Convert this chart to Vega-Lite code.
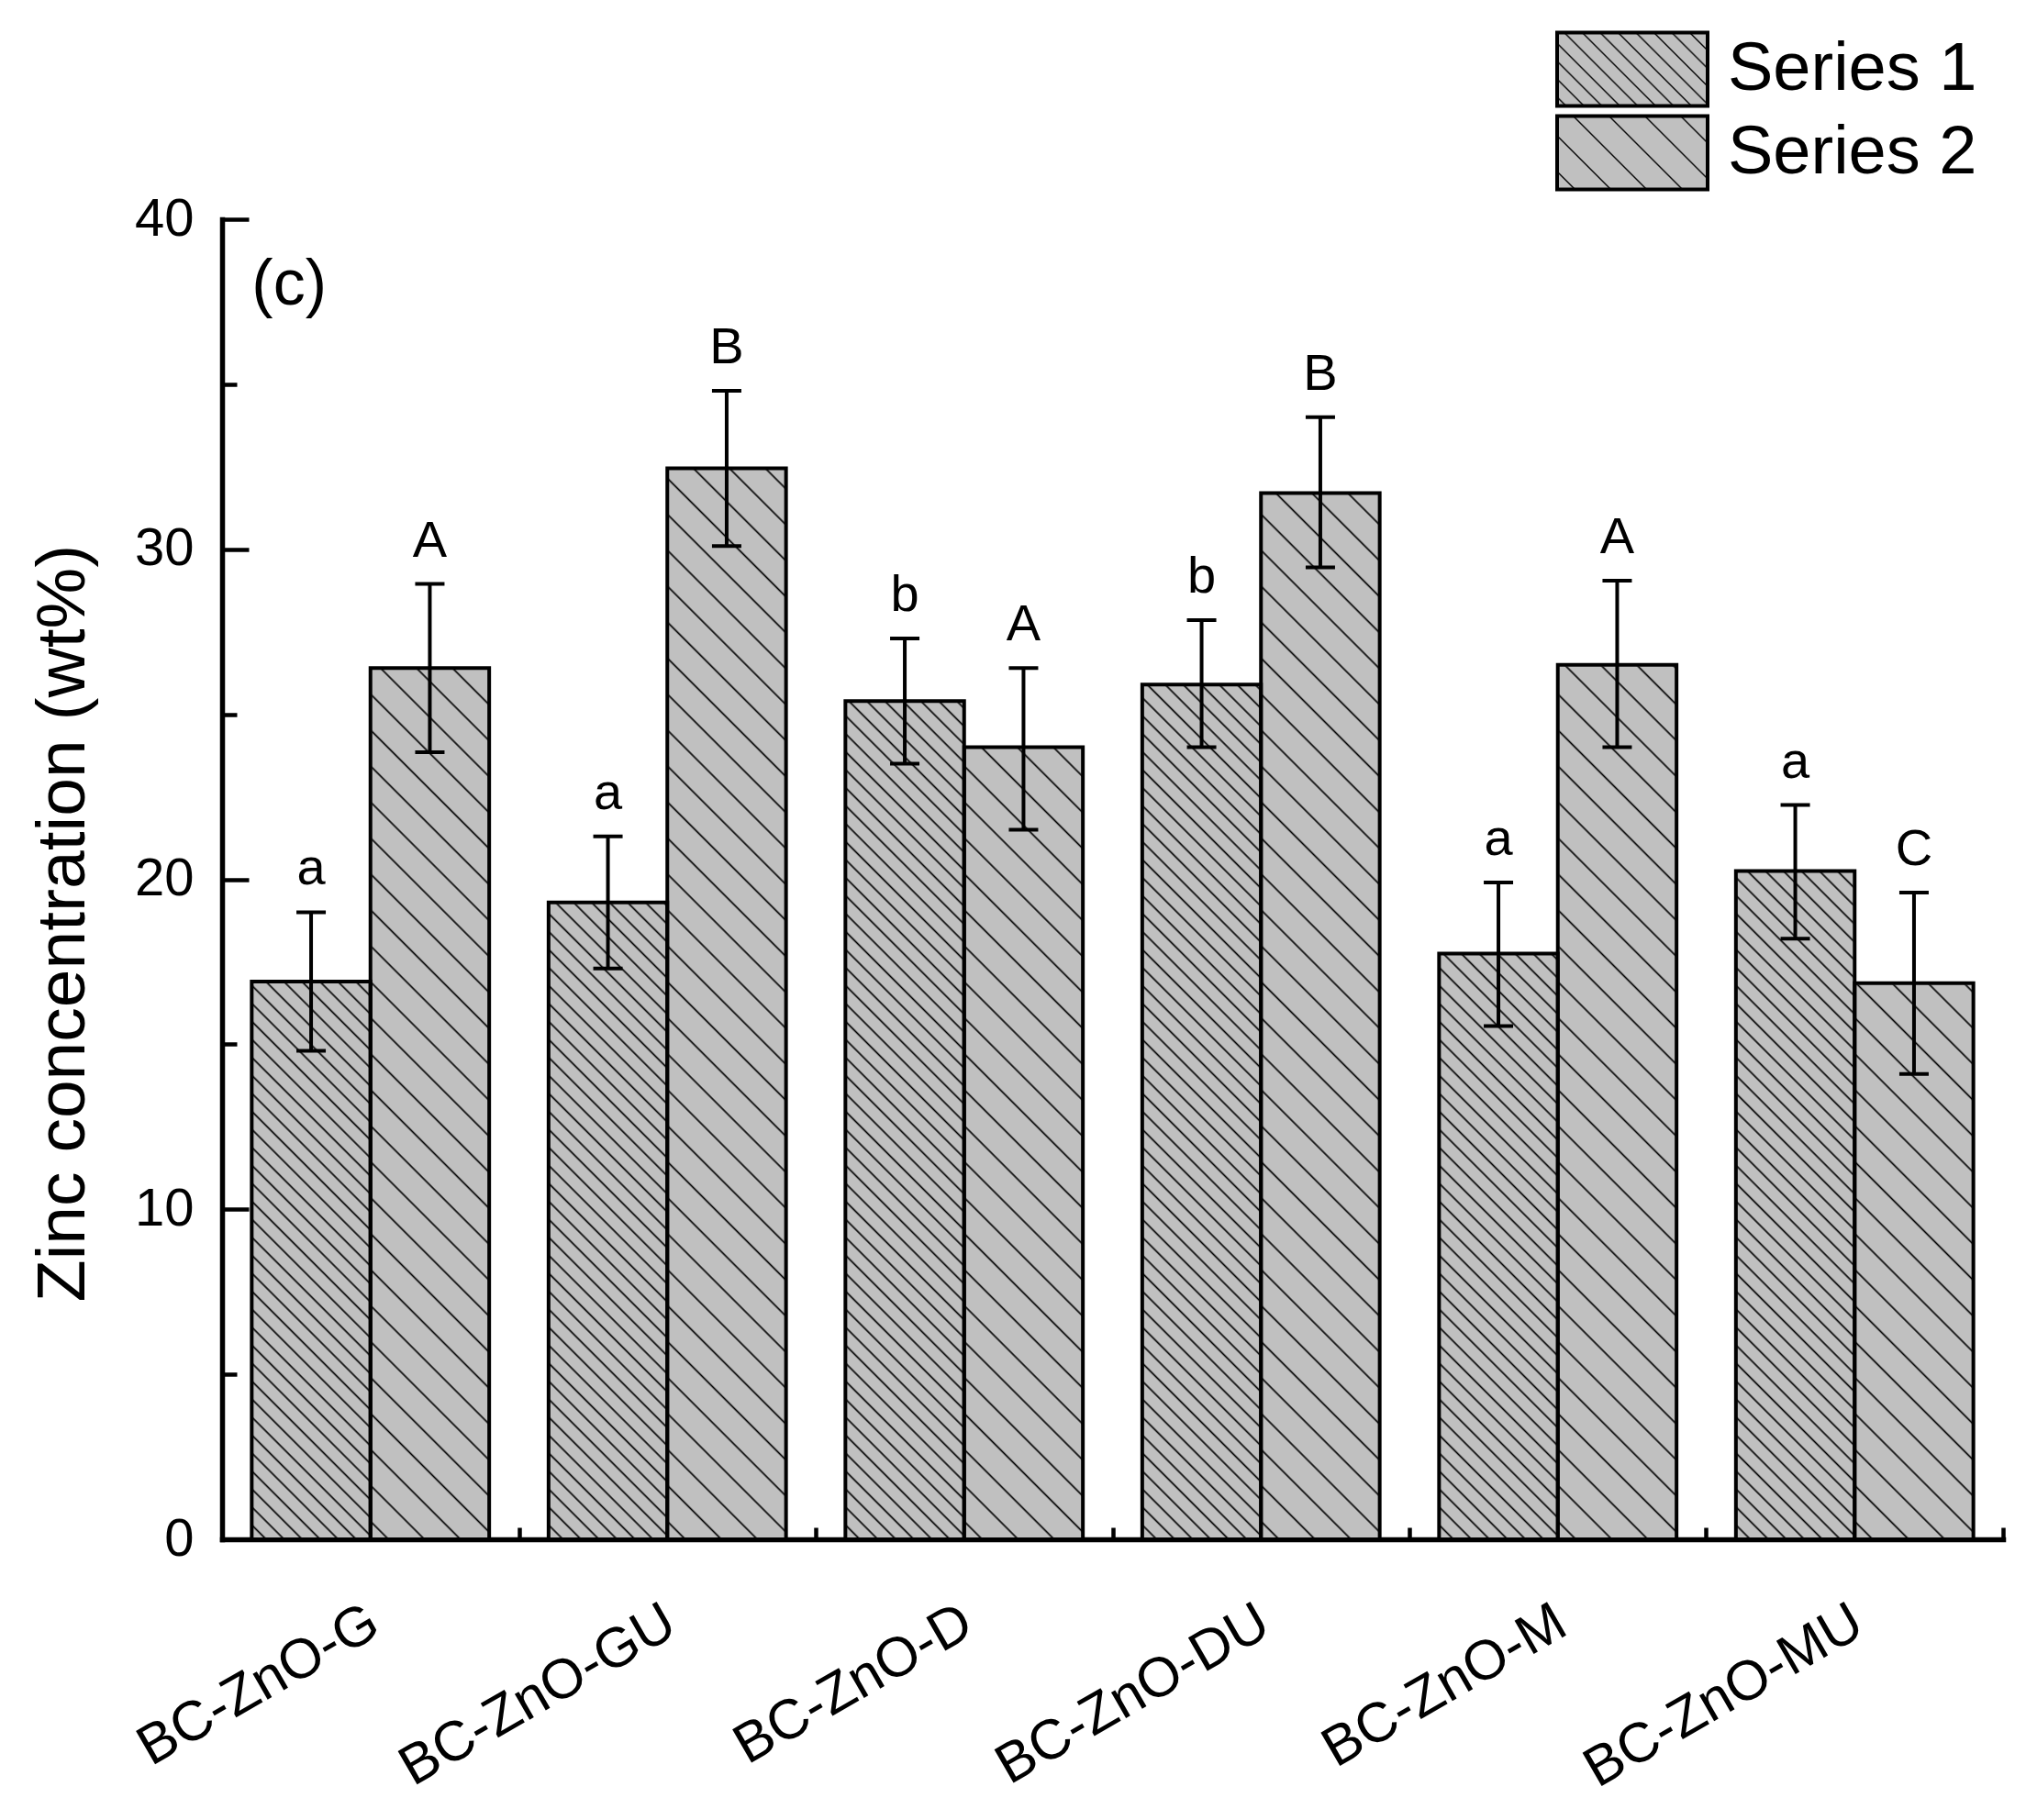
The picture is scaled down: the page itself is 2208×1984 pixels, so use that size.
{
  "$schema": "https://vega.github.io/schema/vega-lite/v6.json",
  "width": 1941,
  "height": 1439,
  "autosize": {"type": "none"},
  "padding": {"left": 242, "top": 239, "right": 25, "bottom": 306},
  "background": "white",
  "config": {
    "view": {"stroke": null},
    "font": "Liberation Sans",
    "axis": {
      "domainColor": "black", "domainWidth": 5.5, "domainCap": "square",
      "tickColor": "black", "tickWidth": 4.5,
      "labelColor": "black", "labelFont": "Liberation Sans",
      "titleFont": "Liberation Sans", "titleColor": "black", "titleFontWeight": "normal",
      "grid": false
    }
  },
  "resolve": {"axis": {"y": "independent"}},
  "data": {"values": [
    {"group": "BC-ZnO-G", "series": "Series 1", "value": 16.9, "lo": 14.8, "hi": 19.0, "letter": "a"},
    {"group": "BC-ZnO-G", "series": "Series 2", "value": 26.4, "lo": 23.85, "hi": 28.95, "letter": "A"},
    {"group": "BC-ZnO-GU", "series": "Series 1", "value": 19.3, "lo": 17.3, "hi": 21.3, "letter": "a"},
    {"group": "BC-ZnO-GU", "series": "Series 2", "value": 32.45, "lo": 30.1, "hi": 34.8, "letter": "B"},
    {"group": "BC-ZnO-D", "series": "Series 1", "value": 25.4, "lo": 23.5, "hi": 27.3, "letter": "b"},
    {"group": "BC-ZnO-D", "series": "Series 2", "value": 24.0, "lo": 21.5, "hi": 26.4, "letter": "A"},
    {"group": "BC-ZnO-DU", "series": "Series 1", "value": 25.9, "lo": 24.0, "hi": 27.85, "letter": "b"},
    {"group": "BC-ZnO-DU", "series": "Series 2", "value": 31.7, "lo": 29.45, "hi": 34.0, "letter": "B"},
    {"group": "BC-ZnO-M", "series": "Series 1", "value": 17.75, "lo": 15.55, "hi": 19.9, "letter": "a"},
    {"group": "BC-ZnO-M", "series": "Series 2", "value": 26.5, "lo": 24.0, "hi": 29.05, "letter": "A"},
    {"group": "BC-ZnO-MU", "series": "Series 1", "value": 20.25, "lo": 18.2, "hi": 22.25, "letter": "a"},
    {"group": "BC-ZnO-MU", "series": "Series 2", "value": 16.85, "lo": 14.1, "hi": 19.6, "letter": "C"}
  ]},
  "layer": [
    {
      "transform": [{"filter": "datum.series === 'Series 1'"}],
      "mark": {"type": "bar", "strokeWidth": 0, "fill": {"gradient": "linear", "x1": 0, "y1": 1, "x2": 0.0972, "y2": -0.0812, "stops": [
        {"offset":0.0085,"color":"#c0c0c0"},{"offset":0.01,"color":"#000"},{"offset":0.0115,"color":"#c0c0c0"},{"offset":0.021,"color":"#c0c0c0"},{"offset":0.0225,"color":"#000"},{"offset":0.024,"color":"#c0c0c0"},{"offset":0.0335,"color":"#c0c0c0"},{"offset":0.035,"color":"#000"},{"offset":0.0365,"color":"#c0c0c0"},{"offset":0.046,"color":"#c0c0c0"},{"offset":0.0475,"color":"#000"},{"offset":0.049,"color":"#c0c0c0"},
        {"offset":0.0585,"color":"#c0c0c0"},{"offset":0.06,"color":"#000"},{"offset":0.0615,"color":"#c0c0c0"},{"offset":0.071,"color":"#c0c0c0"},{"offset":0.0725,"color":"#000"},{"offset":0.074,"color":"#c0c0c0"},{"offset":0.0835,"color":"#c0c0c0"},{"offset":0.085,"color":"#000"},{"offset":0.0865,"color":"#c0c0c0"},{"offset":0.096,"color":"#c0c0c0"},{"offset":0.0975,"color":"#000"},{"offset":0.099,"color":"#c0c0c0"},
        {"offset":0.1085,"color":"#c0c0c0"},{"offset":0.11,"color":"#000"},{"offset":0.1115,"color":"#c0c0c0"},{"offset":0.121,"color":"#c0c0c0"},{"offset":0.1225,"color":"#000"},{"offset":0.124,"color":"#c0c0c0"},{"offset":0.1335,"color":"#c0c0c0"},{"offset":0.135,"color":"#000"},{"offset":0.1365,"color":"#c0c0c0"},{"offset":0.146,"color":"#c0c0c0"},{"offset":0.1475,"color":"#000"},{"offset":0.149,"color":"#c0c0c0"},
        {"offset":0.1585,"color":"#c0c0c0"},{"offset":0.16,"color":"#000"},{"offset":0.1615,"color":"#c0c0c0"},{"offset":0.171,"color":"#c0c0c0"},{"offset":0.1725,"color":"#000"},{"offset":0.174,"color":"#c0c0c0"},{"offset":0.1835,"color":"#c0c0c0"},{"offset":0.185,"color":"#000"},{"offset":0.1865,"color":"#c0c0c0"},{"offset":0.196,"color":"#c0c0c0"},{"offset":0.1975,"color":"#000"},{"offset":0.199,"color":"#c0c0c0"},
        {"offset":0.2085,"color":"#c0c0c0"},{"offset":0.21,"color":"#000"},{"offset":0.2115,"color":"#c0c0c0"},{"offset":0.221,"color":"#c0c0c0"},{"offset":0.2225,"color":"#000"},{"offset":0.224,"color":"#c0c0c0"},{"offset":0.2335,"color":"#c0c0c0"},{"offset":0.235,"color":"#000"},{"offset":0.2365,"color":"#c0c0c0"},{"offset":0.246,"color":"#c0c0c0"},{"offset":0.2475,"color":"#000"},{"offset":0.249,"color":"#c0c0c0"},
        {"offset":0.2585,"color":"#c0c0c0"},{"offset":0.26,"color":"#000"},{"offset":0.2615,"color":"#c0c0c0"},{"offset":0.271,"color":"#c0c0c0"},{"offset":0.2725,"color":"#000"},{"offset":0.274,"color":"#c0c0c0"},{"offset":0.2835,"color":"#c0c0c0"},{"offset":0.285,"color":"#000"},{"offset":0.2865,"color":"#c0c0c0"},{"offset":0.296,"color":"#c0c0c0"},{"offset":0.2975,"color":"#000"},{"offset":0.299,"color":"#c0c0c0"},
        {"offset":0.3085,"color":"#c0c0c0"},{"offset":0.31,"color":"#000"},{"offset":0.3115,"color":"#c0c0c0"},{"offset":0.321,"color":"#c0c0c0"},{"offset":0.3225,"color":"#000"},{"offset":0.324,"color":"#c0c0c0"},{"offset":0.3335,"color":"#c0c0c0"},{"offset":0.335,"color":"#000"},{"offset":0.3365,"color":"#c0c0c0"},{"offset":0.346,"color":"#c0c0c0"},{"offset":0.3475,"color":"#000"},{"offset":0.349,"color":"#c0c0c0"},
        {"offset":0.3585,"color":"#c0c0c0"},{"offset":0.36,"color":"#000"},{"offset":0.3615,"color":"#c0c0c0"},{"offset":0.371,"color":"#c0c0c0"},{"offset":0.3725,"color":"#000"},{"offset":0.374,"color":"#c0c0c0"},{"offset":0.3835,"color":"#c0c0c0"},{"offset":0.385,"color":"#000"},{"offset":0.3865,"color":"#c0c0c0"},{"offset":0.396,"color":"#c0c0c0"},{"offset":0.3975,"color":"#000"},{"offset":0.399,"color":"#c0c0c0"},
        {"offset":0.4085,"color":"#c0c0c0"},{"offset":0.41,"color":"#000"},{"offset":0.4115,"color":"#c0c0c0"},{"offset":0.421,"color":"#c0c0c0"},{"offset":0.4225,"color":"#000"},{"offset":0.424,"color":"#c0c0c0"},{"offset":0.4335,"color":"#c0c0c0"},{"offset":0.435,"color":"#000"},{"offset":0.4365,"color":"#c0c0c0"},{"offset":0.446,"color":"#c0c0c0"},{"offset":0.4475,"color":"#000"},{"offset":0.449,"color":"#c0c0c0"},
        {"offset":0.4585,"color":"#c0c0c0"},{"offset":0.46,"color":"#000"},{"offset":0.4615,"color":"#c0c0c0"},{"offset":0.471,"color":"#c0c0c0"},{"offset":0.4725,"color":"#000"},{"offset":0.474,"color":"#c0c0c0"},{"offset":0.4835,"color":"#c0c0c0"},{"offset":0.485,"color":"#000"},{"offset":0.4865,"color":"#c0c0c0"},{"offset":0.496,"color":"#c0c0c0"},{"offset":0.4975,"color":"#000"},{"offset":0.499,"color":"#c0c0c0"},
        {"offset":0.5085,"color":"#c0c0c0"},{"offset":0.51,"color":"#000"},{"offset":0.5115,"color":"#c0c0c0"},{"offset":0.521,"color":"#c0c0c0"},{"offset":0.5225,"color":"#000"},{"offset":0.524,"color":"#c0c0c0"},{"offset":0.5335,"color":"#c0c0c0"},{"offset":0.535,"color":"#000"},{"offset":0.5365,"color":"#c0c0c0"},{"offset":0.546,"color":"#c0c0c0"},{"offset":0.5475,"color":"#000"},{"offset":0.549,"color":"#c0c0c0"},
        {"offset":0.5585,"color":"#c0c0c0"},{"offset":0.56,"color":"#000"},{"offset":0.5615,"color":"#c0c0c0"},{"offset":0.571,"color":"#c0c0c0"},{"offset":0.5725,"color":"#000"},{"offset":0.574,"color":"#c0c0c0"},{"offset":0.5835,"color":"#c0c0c0"},{"offset":0.585,"color":"#000"},{"offset":0.5865,"color":"#c0c0c0"},{"offset":0.596,"color":"#c0c0c0"},{"offset":0.5975,"color":"#000"},{"offset":0.599,"color":"#c0c0c0"},
        {"offset":0.6085,"color":"#c0c0c0"},{"offset":0.61,"color":"#000"},{"offset":0.6115,"color":"#c0c0c0"},{"offset":0.621,"color":"#c0c0c0"},{"offset":0.6225,"color":"#000"},{"offset":0.624,"color":"#c0c0c0"},{"offset":0.6335,"color":"#c0c0c0"},{"offset":0.635,"color":"#000"},{"offset":0.6365,"color":"#c0c0c0"},{"offset":0.646,"color":"#c0c0c0"},{"offset":0.6475,"color":"#000"},{"offset":0.649,"color":"#c0c0c0"},
        {"offset":0.6585,"color":"#c0c0c0"},{"offset":0.66,"color":"#000"},{"offset":0.6615,"color":"#c0c0c0"},{"offset":0.671,"color":"#c0c0c0"},{"offset":0.6725,"color":"#000"},{"offset":0.674,"color":"#c0c0c0"},{"offset":0.6835,"color":"#c0c0c0"},{"offset":0.685,"color":"#000"},{"offset":0.6865,"color":"#c0c0c0"},{"offset":0.696,"color":"#c0c0c0"},{"offset":0.6975,"color":"#000"},{"offset":0.699,"color":"#c0c0c0"},
        {"offset":0.7085,"color":"#c0c0c0"},{"offset":0.71,"color":"#000"},{"offset":0.7115,"color":"#c0c0c0"},{"offset":0.721,"color":"#c0c0c0"},{"offset":0.7225,"color":"#000"},{"offset":0.724,"color":"#c0c0c0"},{"offset":0.7335,"color":"#c0c0c0"},{"offset":0.735,"color":"#000"},{"offset":0.7365,"color":"#c0c0c0"},{"offset":0.746,"color":"#c0c0c0"},{"offset":0.7475,"color":"#000"},{"offset":0.749,"color":"#c0c0c0"},
        {"offset":0.7585,"color":"#c0c0c0"},{"offset":0.76,"color":"#000"},{"offset":0.7615,"color":"#c0c0c0"},{"offset":0.771,"color":"#c0c0c0"},{"offset":0.7725,"color":"#000"},{"offset":0.774,"color":"#c0c0c0"},{"offset":0.7835,"color":"#c0c0c0"},{"offset":0.785,"color":"#000"},{"offset":0.7865,"color":"#c0c0c0"},{"offset":0.796,"color":"#c0c0c0"},{"offset":0.7975,"color":"#000"},{"offset":0.799,"color":"#c0c0c0"},
        {"offset":0.8085,"color":"#c0c0c0"},{"offset":0.81,"color":"#000"},{"offset":0.8115,"color":"#c0c0c0"},{"offset":0.821,"color":"#c0c0c0"},{"offset":0.8225,"color":"#000"},{"offset":0.824,"color":"#c0c0c0"},{"offset":0.8335,"color":"#c0c0c0"},{"offset":0.835,"color":"#000"},{"offset":0.8365,"color":"#c0c0c0"},{"offset":0.846,"color":"#c0c0c0"},{"offset":0.8475,"color":"#000"},{"offset":0.849,"color":"#c0c0c0"},
        {"offset":0.8585,"color":"#c0c0c0"},{"offset":0.86,"color":"#000"},{"offset":0.8615,"color":"#c0c0c0"},{"offset":0.871,"color":"#c0c0c0"},{"offset":0.8725,"color":"#000"},{"offset":0.874,"color":"#c0c0c0"},{"offset":0.8835,"color":"#c0c0c0"},{"offset":0.885,"color":"#000"},{"offset":0.8865,"color":"#c0c0c0"},{"offset":0.896,"color":"#c0c0c0"},{"offset":0.8975,"color":"#000"},{"offset":0.899,"color":"#c0c0c0"},
        {"offset":0.9085,"color":"#c0c0c0"},{"offset":0.91,"color":"#000"},{"offset":0.9115,"color":"#c0c0c0"},{"offset":0.921,"color":"#c0c0c0"},{"offset":0.9225,"color":"#000"},{"offset":0.924,"color":"#c0c0c0"},{"offset":0.9335,"color":"#c0c0c0"},{"offset":0.935,"color":"#000"},{"offset":0.9365,"color":"#c0c0c0"},{"offset":0.946,"color":"#c0c0c0"},{"offset":0.9475,"color":"#000"},{"offset":0.949,"color":"#c0c0c0"},
        {"offset":0.9585,"color":"#c0c0c0"},{"offset":0.96,"color":"#000"},{"offset":0.9615,"color":"#c0c0c0"},{"offset":0.971,"color":"#c0c0c0"},{"offset":0.9725,"color":"#000"},{"offset":0.974,"color":"#c0c0c0"},{"offset":0.9835,"color":"#c0c0c0"},{"offset":0.985,"color":"#000"},{"offset":0.9865,"color":"#c0c0c0"},{"offset":0.996,"color":"#c0c0c0"},{"offset":0.9975,"color":"#000"},{"offset":0.999,"color":"#c0c0c0"}
      ]}},
      "encoding": {
        "x": {"field": "group", "type": "nominal", "title": null, "sort": null,
          "scale": {"domain": ["BC-ZnO-G", "BC-ZnO-GU", "BC-ZnO-D", "BC-ZnO-DU", "BC-ZnO-M", "BC-ZnO-MU"], "paddingInner": 0.2, "paddingOuter": 0.1},
          "axis": {"title": null, "labelAngle": -30, "labelAlign": "right", "labelBaseline": "top", "labelFontSize": 61, "labelLimit": 1000, "ticks": true, "bandPosition": 1, "tickOffset": 32.35, "tickSize": -13, "labelPadding": 73, "labelOffset": -43.35}},
        "xOffset": {"field": "series", "type": "nominal", "scale": {"domain": ["Series 1", "Series 2"]}},
        "y": {"datum": 40, "type": "quantitative", "scale": {"domain": [0, 40], "nice": false},
          "axis": {"orient": "left", "title": "Zinc concentration (wt%)", "titleFontSize": 75, "titlePadding": 39, "titleY": 767,
            "values": [0, 10, 20, 30, 40],
            "labelFontSize": 58, "labelFlush": false, "labelOverlap": false,
            "tickSize": -29, "labelPadding": 60}},
        "y2": {"datum": 0}
      }
    },
    {
      "transform": [{"filter": "datum.series === 'Series 2'"}],
      "mark": {"type": "bar", "strokeWidth": 0, "fill": {"gradient": "linear", "x1": 0, "y1": 1, "x2": 0.0972, "y2": -0.0812, "stops": [
        {"offset":0.011,"color":"#c0c0c0"},{"offset":0.0125,"color":"#000"},{"offset":0.014,"color":"#c0c0c0"},{"offset":0.036,"color":"#c0c0c0"},{"offset":0.0375,"color":"#000"},{"offset":0.039,"color":"#c0c0c0"},{"offset":0.061,"color":"#c0c0c0"},{"offset":0.0625,"color":"#000"},{"offset":0.064,"color":"#c0c0c0"},{"offset":0.086,"color":"#c0c0c0"},{"offset":0.0875,"color":"#000"},{"offset":0.089,"color":"#c0c0c0"},
        {"offset":0.111,"color":"#c0c0c0"},{"offset":0.1125,"color":"#000"},{"offset":0.114,"color":"#c0c0c0"},{"offset":0.136,"color":"#c0c0c0"},{"offset":0.1375,"color":"#000"},{"offset":0.139,"color":"#c0c0c0"},{"offset":0.161,"color":"#c0c0c0"},{"offset":0.1625,"color":"#000"},{"offset":0.164,"color":"#c0c0c0"},{"offset":0.186,"color":"#c0c0c0"},{"offset":0.1875,"color":"#000"},{"offset":0.189,"color":"#c0c0c0"},
        {"offset":0.211,"color":"#c0c0c0"},{"offset":0.2125,"color":"#000"},{"offset":0.214,"color":"#c0c0c0"},{"offset":0.236,"color":"#c0c0c0"},{"offset":0.2375,"color":"#000"},{"offset":0.239,"color":"#c0c0c0"},{"offset":0.261,"color":"#c0c0c0"},{"offset":0.2625,"color":"#000"},{"offset":0.264,"color":"#c0c0c0"},{"offset":0.286,"color":"#c0c0c0"},{"offset":0.2875,"color":"#000"},{"offset":0.289,"color":"#c0c0c0"},
        {"offset":0.311,"color":"#c0c0c0"},{"offset":0.3125,"color":"#000"},{"offset":0.314,"color":"#c0c0c0"},{"offset":0.336,"color":"#c0c0c0"},{"offset":0.3375,"color":"#000"},{"offset":0.339,"color":"#c0c0c0"},{"offset":0.361,"color":"#c0c0c0"},{"offset":0.3625,"color":"#000"},{"offset":0.364,"color":"#c0c0c0"},{"offset":0.386,"color":"#c0c0c0"},{"offset":0.3875,"color":"#000"},{"offset":0.389,"color":"#c0c0c0"},
        {"offset":0.411,"color":"#c0c0c0"},{"offset":0.4125,"color":"#000"},{"offset":0.414,"color":"#c0c0c0"},{"offset":0.436,"color":"#c0c0c0"},{"offset":0.4375,"color":"#000"},{"offset":0.439,"color":"#c0c0c0"},{"offset":0.461,"color":"#c0c0c0"},{"offset":0.4625,"color":"#000"},{"offset":0.464,"color":"#c0c0c0"},{"offset":0.486,"color":"#c0c0c0"},{"offset":0.4875,"color":"#000"},{"offset":0.489,"color":"#c0c0c0"},
        {"offset":0.511,"color":"#c0c0c0"},{"offset":0.5125,"color":"#000"},{"offset":0.514,"color":"#c0c0c0"},{"offset":0.536,"color":"#c0c0c0"},{"offset":0.5375,"color":"#000"},{"offset":0.539,"color":"#c0c0c0"},{"offset":0.561,"color":"#c0c0c0"},{"offset":0.5625,"color":"#000"},{"offset":0.564,"color":"#c0c0c0"},{"offset":0.586,"color":"#c0c0c0"},{"offset":0.5875,"color":"#000"},{"offset":0.589,"color":"#c0c0c0"},
        {"offset":0.611,"color":"#c0c0c0"},{"offset":0.6125,"color":"#000"},{"offset":0.614,"color":"#c0c0c0"},{"offset":0.636,"color":"#c0c0c0"},{"offset":0.6375,"color":"#000"},{"offset":0.639,"color":"#c0c0c0"},{"offset":0.661,"color":"#c0c0c0"},{"offset":0.6625,"color":"#000"},{"offset":0.664,"color":"#c0c0c0"},{"offset":0.686,"color":"#c0c0c0"},{"offset":0.6875,"color":"#000"},{"offset":0.689,"color":"#c0c0c0"},
        {"offset":0.711,"color":"#c0c0c0"},{"offset":0.7125,"color":"#000"},{"offset":0.714,"color":"#c0c0c0"},{"offset":0.736,"color":"#c0c0c0"},{"offset":0.7375,"color":"#000"},{"offset":0.739,"color":"#c0c0c0"},{"offset":0.761,"color":"#c0c0c0"},{"offset":0.7625,"color":"#000"},{"offset":0.764,"color":"#c0c0c0"},{"offset":0.786,"color":"#c0c0c0"},{"offset":0.7875,"color":"#000"},{"offset":0.789,"color":"#c0c0c0"},
        {"offset":0.811,"color":"#c0c0c0"},{"offset":0.8125,"color":"#000"},{"offset":0.814,"color":"#c0c0c0"},{"offset":0.836,"color":"#c0c0c0"},{"offset":0.8375,"color":"#000"},{"offset":0.839,"color":"#c0c0c0"},{"offset":0.861,"color":"#c0c0c0"},{"offset":0.8625,"color":"#000"},{"offset":0.864,"color":"#c0c0c0"},{"offset":0.886,"color":"#c0c0c0"},{"offset":0.8875,"color":"#000"},{"offset":0.889,"color":"#c0c0c0"},
        {"offset":0.911,"color":"#c0c0c0"},{"offset":0.9125,"color":"#000"},{"offset":0.914,"color":"#c0c0c0"},{"offset":0.936,"color":"#c0c0c0"},{"offset":0.9375,"color":"#000"},{"offset":0.939,"color":"#c0c0c0"},{"offset":0.961,"color":"#c0c0c0"},{"offset":0.9625,"color":"#000"},{"offset":0.964,"color":"#c0c0c0"},{"offset":0.986,"color":"#c0c0c0"},{"offset":0.9875,"color":"#000"},{"offset":0.989,"color":"#c0c0c0"}
      ]}},
      "encoding": {
        "x": {"field": "group", "type": "nominal", "title": null, "sort": null},
        "xOffset": {"field": "series", "type": "nominal"},
        "y": {"datum": 40, "type": "quantitative",
          "axis": {"orient": "left", "title": null, "values": [5, 15, 25, 35], "labels": false, "domain": false, "tickSize": -16}},
        "y2": {"datum": 0}
      }
    },
    {
      "mark": {"type": "bar", "fill": "white", "stroke": "white", "strokeWidth": 3},
      "encoding": {
        "x": {"field": "group", "type": "nominal", "title": null, "sort": null},
        "xOffset": {"field": "series", "type": "nominal"},
        "y": {"field": "value", "type": "quantitative", "axis": null},
        "y2": {"datum": 40}
      }
    },
    {
      "mark": {"type": "bar", "filled": false, "stroke": "black", "strokeWidth": 4},
      "encoding": {
        "x": {"field": "group", "type": "nominal", "title": null, "sort": null},
        "xOffset": {"field": "series", "type": "nominal"},
        "y": {"field": "value", "type": "quantitative", "axis": null},
        "y2": {"datum": 0}
      }
    },
    {
      "transform": [{"filter": "false"}],
      "mark": {"type": "bar"},
      "encoding": {
        "x": {"field": "group", "type": "nominal", "title": null, "sort": null},
        "xOffset": {"field": "series", "type": "nominal"},
        "y": {"field": "value", "type": "quantitative", "axis": null},
        "fill": {"field": "series", "type": "nominal",
          "scale": {"domain": ["Series 1", "Series 2"], "range": [
            {"expr": "{gradient:'linear',x1:0,y1:1,x2:1.2018,y2:0.4137,stops:[{offset:0.032,color:'#c0c0c0'},{offset:0.04,color:'#000'},{offset:0.048,color:'#c0c0c0'},{offset:0.112,color:'#c0c0c0'},{offset:0.12,color:'#000'},{offset:0.128,color:'#c0c0c0'},{offset:0.192,color:'#c0c0c0'},{offset:0.2,color:'#000'},{offset:0.208,color:'#c0c0c0'},{offset:0.272,color:'#c0c0c0'},{offset:0.28,color:'#000'},{offset:0.288,color:'#c0c0c0'},{offset:0.352,color:'#c0c0c0'},{offset:0.36,color:'#000'},{offset:0.368,color:'#c0c0c0'},{offset:0.432,color:'#c0c0c0'},{offset:0.44,color:'#000'},{offset:0.448,color:'#c0c0c0'},{offset:0.512,color:'#c0c0c0'},{offset:0.52,color:'#000'},{offset:0.528,color:'#c0c0c0'},{offset:0.592,color:'#c0c0c0'},{offset:0.6,color:'#000'},{offset:0.608,color:'#c0c0c0'},{offset:0.672,color:'#c0c0c0'},{offset:0.68,color:'#000'},{offset:0.688,color:'#c0c0c0'},{offset:0.752,color:'#c0c0c0'},{offset:0.76,color:'#000'},{offset:0.768,color:'#c0c0c0'},{offset:0.832,color:'#c0c0c0'},{offset:0.84,color:'#000'},{offset:0.848,color:'#c0c0c0'},{offset:0.912,color:'#c0c0c0'},{offset:0.92,color:'#000'},{offset:0.928,color:'#c0c0c0'}]}"},
            {"expr": "{gradient:'linear',x1:0,y1:1,x2:1.2018,y2:0.4137,stops:[{offset:0.072,color:'#c0c0c0'},{offset:0.08,color:'#000'},{offset:0.088,color:'#c0c0c0'},{offset:0.232,color:'#c0c0c0'},{offset:0.24,color:'#000'},{offset:0.248,color:'#c0c0c0'},{offset:0.392,color:'#c0c0c0'},{offset:0.4,color:'#000'},{offset:0.408,color:'#c0c0c0'},{offset:0.552,color:'#c0c0c0'},{offset:0.56,color:'#000'},{offset:0.568,color:'#c0c0c0'},{offset:0.712,color:'#c0c0c0'},{offset:0.72,color:'#000'},{offset:0.728,color:'#c0c0c0'},{offset:0.872,color:'#c0c0c0'},{offset:0.88,color:'#000'},{offset:0.888,color:'#c0c0c0'}]}"}
          ]},
          "legend": {
            "title": null, "orient": "none", "legendX": 1495, "legendY": -205.5,
            "symbolType": "M-2.05,-1H2.05V1H-2.05Z", "symbolSize": 6400,
            "symbolStrokeColor": "black", "symbolStrokeWidth": 4, "symbolOpacity": 1,
            "labelFontSize": 74, "labelFont": "Liberation Sans", "labelColor": "black",
            "labelOffset": 62, "rowPadding": -5, "padding": 0, "labelLimit": 1000
          }}
      }
    },
    {
      "mark": {"type": "rule", "strokeWidth": 4, "color": "black"},
      "encoding": {
        "x": {"field": "group", "type": "nominal", "title": null, "sort": null},
        "xOffset": {"field": "series", "type": "nominal"},
        "y": {"field": "lo", "type": "quantitative", "axis": null},
        "y2": {"field": "hi"}
      }
    },
    {
      "mark": {"type": "tick", "thickness": 4, "size": 32, "color": "black", "opacity": 1},
      "encoding": {
        "x": {"field": "group", "type": "nominal", "title": null, "sort": null},
        "xOffset": {"field": "series", "type": "nominal"},
        "y": {"field": "hi", "type": "quantitative", "axis": null}
      }
    },
    {
      "mark": {"type": "tick", "thickness": 4, "size": 32, "color": "black", "opacity": 1},
      "encoding": {
        "x": {"field": "group", "type": "nominal", "title": null, "sort": null},
        "xOffset": {"field": "series", "type": "nominal"},
        "y": {"field": "lo", "type": "quantitative", "axis": null}
      }
    },
    {
      "mark": {"type": "text", "fontSize": 56, "font": "Liberation Sans", "baseline": "alphabetic", "align": "center", "dy": -30, "color": "black"},
      "encoding": {
        "x": {"field": "group", "type": "nominal", "title": null, "sort": null},
        "xOffset": {"field": "series", "type": "nominal"},
        "y": {"field": "hi", "type": "quantitative", "axis": null},
        "text": {"field": "letter"}
      }
    },
    {
      "data": {"values": [{"label": "(c)"}]},
      "mark": {"type": "text", "fontSize": 70, "font": "Liberation Sans", "align": "left", "baseline": "middle", "color": "black"},
      "encoding": {
        "x": {"datum": "BC-ZnO-G", "type": "nominal", "bandPosition": 0},
        "y": {"datum": 38, "type": "quantitative", "axis": null},
        "text": {"field": "label"}
      }
    }
  ]
}
